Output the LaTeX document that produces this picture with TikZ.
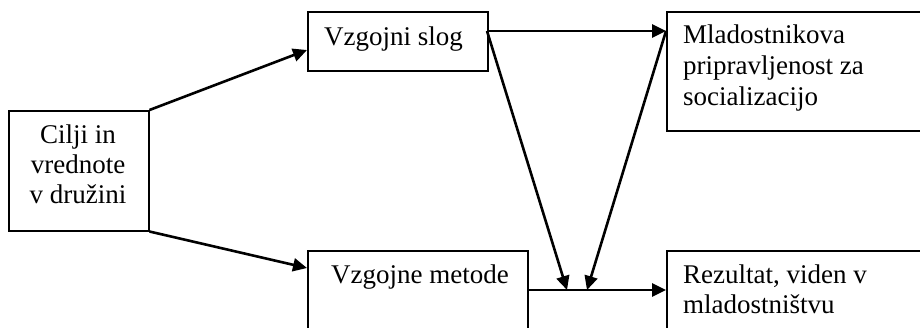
\documentclass[tikz,border=0pt]{standalone}
\usepackage{fontspec}
\setmainfont{Liberation Serif}
\usetikzlibrary{arrows.meta,calc}
\begin{document}
\begin{tikzpicture}[x=1pt,y=-1pt,
  box/.style={draw=black, line width=1.5pt, rectangle, anchor=north west, inner sep=0pt},
  txt/.style={font=\fontsize{27}{30}\selectfont, inner sep=0pt, anchor=base west, align=left},
  conn/.style={draw=black, line width=2.6pt, -{Triangle[length=14pt,width=13pt]}}]
\useasboundingbox (0,0) rectangle (920,327);
\clip (0,0) rectangle (920,327);
% boxes
\node[box, minimum width=140pt, minimum height=120pt] (cilji) at (8,110) {};
\node[box, minimum width=180pt, minimum height=59pt] (slog) at (307,11) {};
\node[box, minimum width=270pt, minimum height=119pt] (mlad) at (666,11) {};
\node[box, minimum width=220pt, minimum height=100pt] (metode) at (307,250) {};
\node[box, minimum width=270pt, minimum height=100pt] (rez) at (666,250) {};
% texts (base anchor = baseline of last line)
\node[txt, anchor=base, align=center] (tcilji) at (78,203) {Cilji in\\vrednote\\v družini};
\node[txt] (tslog) at (324,45) {Vzgojni slog};
\node[txt, font=\fontsize{27}{31}\selectfont] (tmlad) at (683,105) {Mladostnikova\\pripravljenost za\\socializacijo};
\node[txt] (tmet) at (331,283) {Vzgojne metode};
\node[txt] (trez) at (683,313) {Rezultat, viden v\\mladostništvu};
% junction points
\coordinate (j1) at (567,290);
\coordinate (j2) at (587,290);
\coordinate (s1) at (487,31);
\coordinate (m1) at (666,31);
\coordinate (me1) at (527,290);
% connectors
\draw[conn] (cilji.north east) -- (307,50);
\draw[conn] (cilji.south east) -- (307,268);
\draw[conn] (s1) -- (m1);
\draw[conn] (s1) -- (j1);
\draw[conn] (m1) -- (j2);
\draw[conn] (me1) -- (rez.west |- me1);
\end{tikzpicture}
\end{document}
